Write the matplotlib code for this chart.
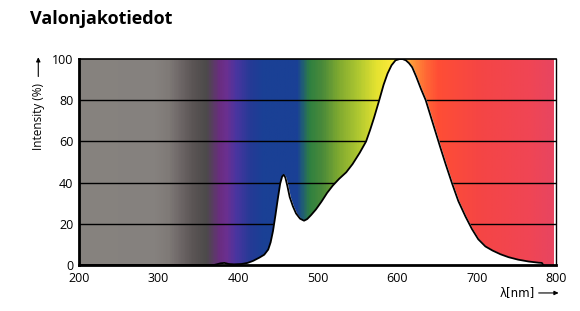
import numpy as np
import matplotlib.pyplot as plt
from matplotlib.colors import LinearSegmentedColormap
from matplotlib.patches import FancyArrowPatch

# spectrum (wavelength nm, relative intensity %)
wavelength = [200, 370, 378, 383, 388, 395, 405, 412, 419, 427, 433, 438, 441, 444, 447,
              450, 453, 455.5, 457.5, 459.5, 462, 465, 469, 473, 478, 483, 487, 492,
              498, 505, 512, 519, 527, 536, 544, 553, 561, 566, 571, 577.5, 583, 588,
              593, 598, 603, 607, 611, 615, 619, 624, 630, 636, 642, 648, 654, 661,
              669, 677, 686, 694, 702, 711, 720, 730, 740, 752, 765, 778, 782, 784]
intensity = [0, 0, 0.8, 1.0, 0.5, 0.3, 0.5, 1, 2, 3.6, 5, 7.5, 11, 16.5, 24,
             32, 39.5, 43, 43.8, 42.5, 38.5, 33, 28.5, 25, 22.5, 21.5, 22.3, 24.3,
             27, 30.8, 35, 38.5, 41.8, 45, 49, 54.5, 60, 65.5, 71.5, 80, 87.5, 93,
             97, 99.4, 100, 100, 99.4, 98, 96, 91.5, 85.5, 80, 72.5, 65, 57.5, 49,
             39.7, 31, 23.5, 17.5, 12.5, 9, 7, 5.2, 3.8, 2.6, 1.7, 1.1, 1.0, 0]

x_ticks = [200, 300, 400, 500, 600, 700, 800]
y_ticks = [0, 20, 40, 60, 80, 100]

# background spectrum colours
lam_min, lam_max = 200, 797
stops = [(200, '#87837f'), (295, '#85817e'), (312, '#7f7a77'), (325, '#6f6868'),
         (343, '#5a5454'), (360, '#4c4a4a'), (376, '#6a2d80'), (385, '#6a3090'),
         (397, '#4a35a0'), (415, '#253a95'), (431, '#1a4095'), (474, '#1a4095'),
         (480, '#1f5a7a'), (490, '#2f8040'), (506, '#4a8a3a'), (527, '#80aa30'),
         (552, '#b0c830'), (574, '#e4e230'), (590, '#f8e838'), (603, '#fff050'),
         (619, '#ff9a3a'), (636, '#ff6a35'), (652, '#ff4e35'), (706, '#f54545'),
         (769, '#f04555'), (797, '#e84560')]
cmap = LinearSegmentedColormap.from_list(
    'spec', [((l - lam_min) / (lam_max - lam_min), c) for l, c in stops])

fig = plt.figure(figsize=(5.8, 3.11), dpi=100)
ax = fig.add_axes([0.136, 0.148, 0.823, 0.662])

grad = np.linspace(0, 1, 600).reshape(1, -1)
ax.imshow(grad, cmap=cmap, aspect='auto', extent=[lam_min, lam_max, 0, 100],
          origin='lower', zorder=0)

for yv in y_ticks[1:-1]:
    ax.axhline(yv, color='black', lw=1.0, zorder=1)

ax.fill_between(wavelength, 0, intensity, color='white', zorder=2)
ax.plot(wavelength, intensity, color='black', lw=1.3, zorder=3)

ax.set_xlim(lam_min, lam_max)
ax.set_ylim(0, 100)
ax.set_xticks(x_ticks)
ax.set_yticks(y_ticks)
ax.tick_params(length=0, labelsize=9)
ax.tick_params(axis='y', pad=4)
ax.tick_params(axis='x', pad=5)
for lab in ax.get_xticklabels() + ax.get_yticklabels():
    lab.set_family('Open Sans')

ax.spines['left'].set_linewidth(2)
ax.spines['bottom'].set_linewidth(2)
ax.spines['top'].set_linewidth(1.2)
ax.spines['right'].set_linewidth(1)

fig.text(0.052, 0.94, 'Valonjakotiedot', fontsize=13, fontweight='bold',
         family='Open Sans', va='center', ha='left')
fig.text(0.066, 0.625, 'Intensity (%)', rotation=90, fontsize=8.5,
         family='Open Sans', ha='center', va='center')
fig.add_artist(FancyArrowPatch(
    (0.066, 0.745), (0.066, 0.825), transform=fig.transFigure,
    arrowstyle='-|>,head_length=2.5,head_width=1.2', lw=0.8, color='black'))
fig.text(0.862, 0.058, 'λ[nm]', fontsize=8.5, family='DejaVu Sans',
         ha='left', va='center')
fig.add_artist(FancyArrowPatch(
    (0.924, 0.058), (0.968, 0.058), transform=fig.transFigure,
    arrowstyle='-|>,head_length=2.5,head_width=1.2', lw=0.8, color='black'))

fig.savefig('out.png', dpi=100)
